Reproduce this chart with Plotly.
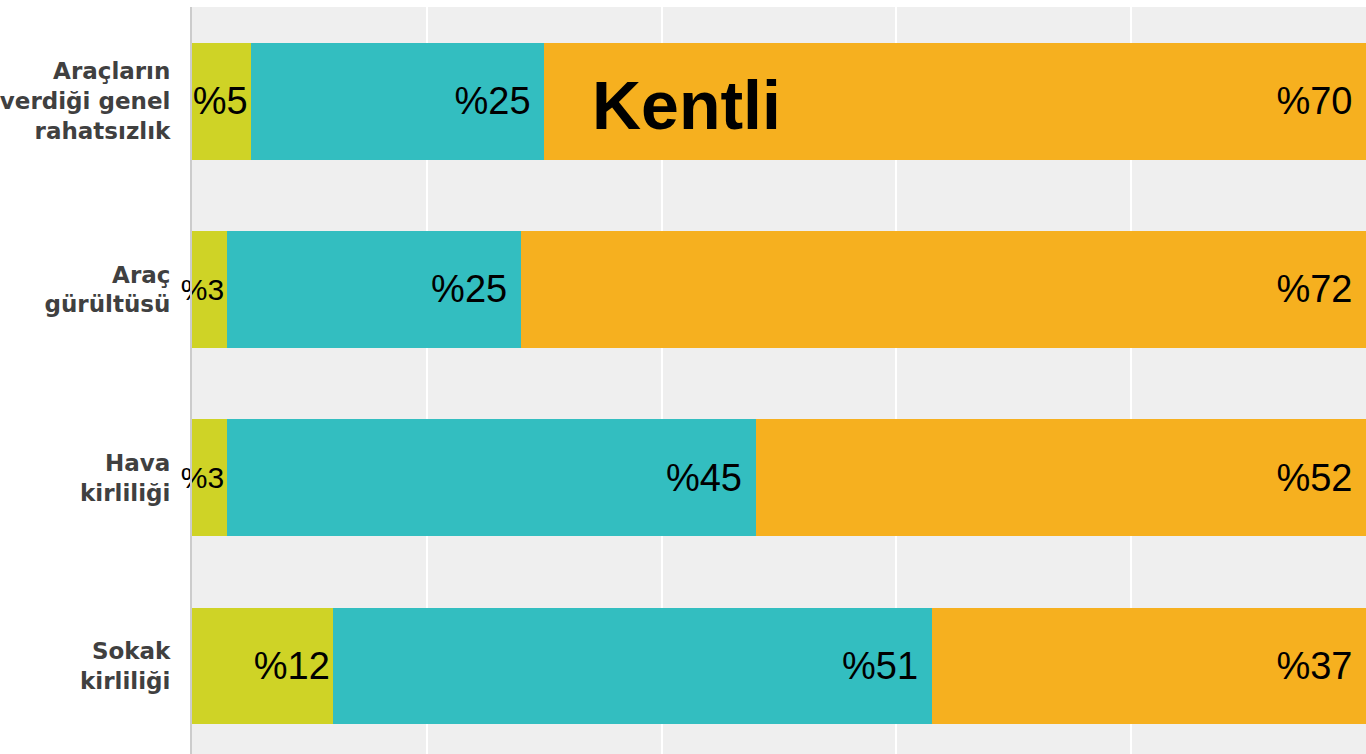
import plotly.graph_objects as go

categories = ["Araçların<br>verdiği genel<br>rahatsızlık", "Araç<br>gürültüsü", "Hava<br>kirliliği", "Sokak<br>kirliliği"]
green_vals = [5, 3, 3, 12]
teal_vals = [25, 25, 45, 51]
orange_vals = [70, 72, 52, 37]
series_colors = ["#cfd326", "#33bec0", "#f6b01f"]
title_text = "Kentli"

NBSP = "\u00a0"

fig = go.Figure()
for vals, col, sizes, pad in [
    (green_vals, series_colors[0], [38, 30, 30, 38], ""),
    (teal_vals, series_colors[1], [38] * 4, NBSP),
    (orange_vals, series_colors[2], [38] * 4, NBSP),
]:
    fig.add_trace(go.Bar(
        y=list(range(len(categories))), x=vals, orientation="h",
        marker=dict(color=col, line=dict(width=0)),
        width=0.62,
        text=[f"%{v}{pad}" for v in vals],
        textposition="inside", insidetextanchor="end",
        constraintext="none", textangle=0,
        textfont=dict(family="Liberation Sans", size=sizes, color="#000000"),
        cliponaxis=False,
        showlegend=False,
    ))

fig.add_annotation(
    text=title_text, xref="paper", yref="paper", x=0.421, y=0.869,
    xanchor="center", yanchor="middle", showarrow=False,
    font=dict(family="Liberation Sans", size=68, color="#000000", weight="bold"),
)

fig.update_layout(
    barmode="stack",
    width=1366, height=754,
    margin=dict(l=192, r=0, t=7, b=0),
    paper_bgcolor="#ffffff", plot_bgcolor="#efefef",
    bargap=0.38,
)
fig.update_xaxes(range=[0, 100], dtick=20, showgrid=True, gridcolor="#ffffff", gridwidth=2,
                 showticklabels=False, zeroline=False, showline=False)
fig.update_yaxes(range=[3.467, -0.5], tickvals=list(range(len(categories))), ticktext=categories,
                 showgrid=False, zeroline=False, showline=True, linecolor="#cccccc", linewidth=2,
                 ticks="", ticklabelstandoff=15,
                 tickfont=dict(family="DejaVu Sans", size=23, color="#404040", weight="bold"))

fig.write_html("out.html", config={"displayModeBar": False},
               post_script="document.body.style.margin='0';document.body.style.overflow='hidden';")
